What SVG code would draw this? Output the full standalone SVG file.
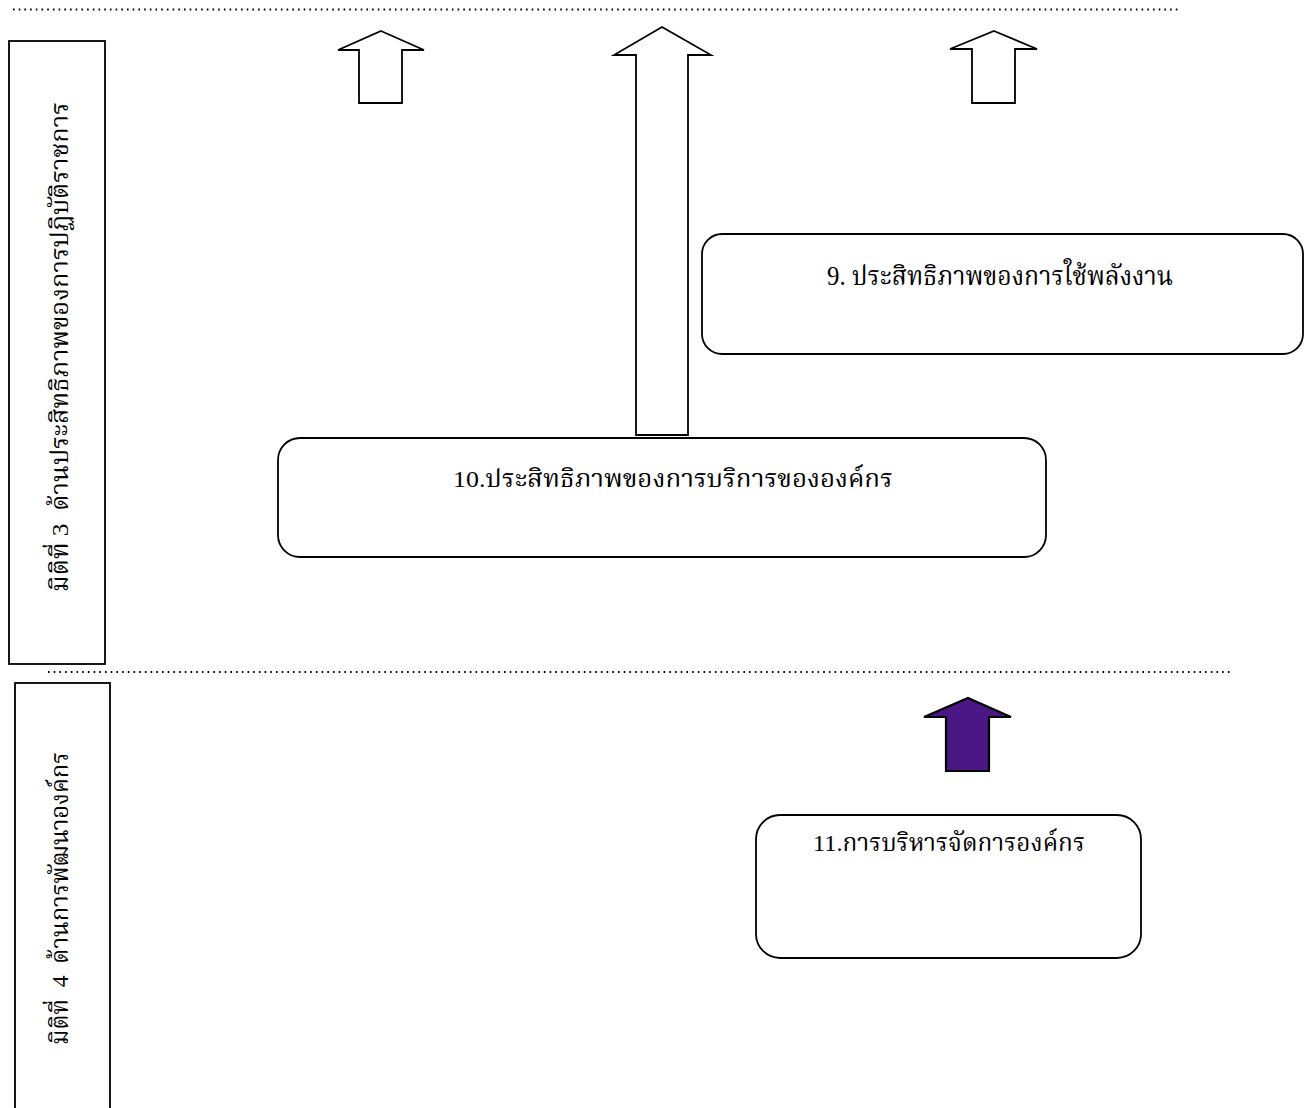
<svg xmlns="http://www.w3.org/2000/svg" width="1311" height="1108" viewBox="0 0 1311 1108">
<style>
.box{fill:#fff;stroke:#000;stroke-width:1.8}
.arrow{fill:#fff;stroke:#000;stroke-width:1.8;stroke-linejoin:miter}
.parrow{fill:#4a1785;stroke:#000;stroke-width:2.2}
.dots{stroke:#000;stroke-width:2;stroke-dasharray:1.6 4.1;fill:none}
.t{font-family:"Liberation Serif","Noto Serif Thai","Noto Sans Thai",serif;fill:#000}
</style>
<rect width="1311" height="1108" fill="#fff"/>
<g id="separators">
<line class="dots" x1="13" y1="9.5" x2="1180" y2="9.5"/>
<line class="dots" x1="48" y1="672" x2="1232" y2="672"/>
</g>
<g id="dim3">
<rect class="box" x="9" y="41" width="96" height="623"/>
<text class="t" xml:space="preserve" transform="translate(68,592) rotate(-90)" font-size="24" textLength="490" lengthAdjust="spacingAndGlyphs">มิติที่ 3  ด้านประสิทธิภาพของการปฏิบัติราชการ</text>
</g>
<g id="dim4">
<rect class="box" x="15" y="683" width="95" height="440"/>
<text class="t" xml:space="preserve" transform="translate(68,1045) rotate(-90)" font-size="24" textLength="293" lengthAdjust="spacingAndGlyphs">มิติที่  4  ด้านการพัฒนาองค์กร</text>
</g>
<g id="connectors">
<path class="arrow" d="M381,31 L424,50 L402,50 L402,103 L359,103 L359,50 L338,50 Z"/>
<path class="arrow" d="M662,27 L711,55 L688,55 L688,435 L636,435 L636,55 L614,55 Z"/>
<path class="arrow" d="M994,31 L1037,49 L1015,49 L1015,103 L972,103 L972,49 L950,49 Z"/>
<path class="parrow" d="M968,698 L1011,717 L989,717 L989,771 L946,771 L946,717 L924,717 Z"/>
</g>
<g id="node9">
<rect class="box" x="702" y="234" width="601" height="120" rx="20"/>
<text class="t" x="827" y="285" font-size="27" textLength="346" lengthAdjust="spacingAndGlyphs">9. ประสิทธิภาพของการใช้พลังงาน</text>
</g>
<g id="node10">
<rect class="box" x="278" y="438" width="768" height="119" rx="22"/>
<text class="t" x="453" y="487" font-size="24" textLength="440" lengthAdjust="spacingAndGlyphs">10.ประสิทธิภาพของการบริการขององค์กร</text>
</g>
<g id="node11">
<rect class="box" x="756" y="815" width="385" height="143" rx="24"/>
<text class="t" x="813" y="851" font-size="24" textLength="272" lengthAdjust="spacingAndGlyphs">11.การบริหารจัดการองค์กร</text>
</g>
</svg>
